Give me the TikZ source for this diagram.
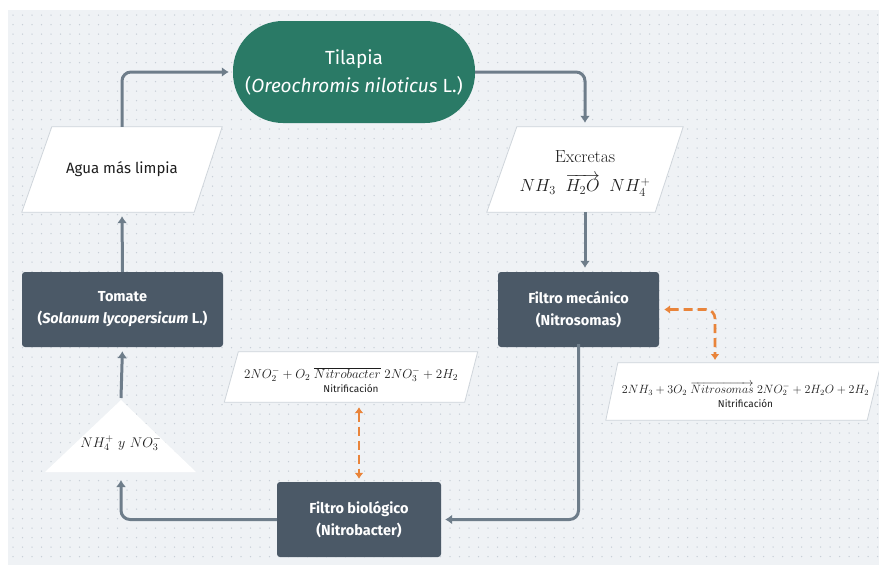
\RequirePackage{fix-cm}
\documentclass[tikz,border=0pt]{standalone}
\usepackage{fontspec}
\setsansfont{Fira Sans}
\usetikzlibrary{arrows.meta,calc}
\definecolor{bgc}{HTML}{EFF2F5}
\definecolor{dotc}{HTML}{C8CFD7}
\definecolor{teal}{HTML}{2A7A66}
\definecolor{slate}{HTML}{4B5967}
\definecolor{flowc}{HTML}{6E7D8A}
\definecolor{orng}{HTML}{E9843A}
\definecolor{edgec}{HTML}{CFD5DB}
\definecolor{txt}{HTML}{1E1E1E}
\tikzset{
  darkbox/.style={draw=none,fill=slate,rounded corners=3pt,text=white,align=center,
    font=\sffamily\bfseries\fontsize{14.5}{22}\selectfont,inner sep=0pt},
  ghost/.style={draw=none,inner sep=0pt,align=center},
  para/.style={fill=white,draw=edgec,line width=0.8pt},
  flow/.style={draw=flowc,line width=3pt,rounded corners=9pt,
    -{Latex[length=7pt,width=10pt]},shorten >=4pt},
  dflow/.style={draw=orng,line width=2.6pt,rounded corners=9pt,dash pattern=on 9pt off 5pt,
    {Latex[length=6pt,width=9pt]}-{Latex[length=6pt,width=9pt]},shorten >=3pt,shorten <=5pt},
}
\begin{document}
\begin{tikzpicture}[x=1pt,y=-1pt]
\useasboundingbox (0,0) rectangle (879,565);
\fill[white] (0,0) rectangle (879,565);
\fill[bgc] (8,10) rectangle (879,565);
\foreach \x in {13,22.5,...,879}{
  \foreach \y in {15,24.5,...,565}{
    \fill[dotc] (\x,\y) circle (0.75);
  }
}
% Tilapia
\node[fill=teal,rounded corners=50pt,minimum width=242pt,minimum height=102pt,inner sep=0pt,
  text=white,align=center,font=\sffamily\fontsize{19}{28}\selectfont] (tilapia) at (354,72)
  {Tilapia\\(\textit{Oreochromis niloticus} L.)};
% Agua mas limpia
\node[ghost,minimum width=200pt,minimum height=85pt] (agua) at (122,169.5) {};
\draw[para] ($(agua.north west)+(30,0)$) -- (agua.north east) -- ($(agua.south east)+(-28,0)$) -- (agua.south west) -- cycle;
\node[font=\sffamily\fontsize{15}{18}\selectfont,text=txt] at (agua.center) {Agua más limpia};
% Excretas
\node[ghost,minimum width=196pt,minimum height=85pt] (excretas) at (585,169.5) {};
\draw[para] ($(excretas.north west)+(30,0)$) -- (excretas.north east) -- ($(excretas.south east)+(-28,0)$) -- (excretas.south west) -- cycle;
\node[align=center,text=txt,font=\fontsize{17.5}{29}\selectfont] at ($(excretas.center)+(0,4)$)
  {Excretas\\$NH_3\;\;\overrightarrow{H_2O}\;\;NH_4^+$};
% Tomate
\node[darkbox,minimum width=201pt,minimum height=75pt] (tomate) at (122.5,309.5)
  {Tomate\\(\textit{Solanum lycopersicum} L.)};
% Filtro mecanico
\node[darkbox,minimum width=161pt,minimum height=75pt] (mecanico) at (578.5,309.5)
  {Filtro mecánico\\(Nitrosomas)};
% Filtro biologico
\node[darkbox,minimum width=164pt,minimum height=75pt] (biologico) at (359,519.5)
  {Filtro biológico\\(Nitrobacter)};
% Triangle
\coordinate (triapex) at (121,398);
\coordinate (tribase) at (121,476);
\fill[white] (121,400) -- (196,472) -- (45,472) -- cycle;
\node[ghost,font=\fontsize{14}{16}\selectfont,text=txt] (tri) at (121,443) {$NH_4^+\ y\ NO_3^-$};
% Equation Nitrobacter
\node[ghost,minimum width=253pt,minimum height=50pt] (eqB) at (351,377) {};
\draw[para] ($(eqB.north west)+(14,0)$) -- (eqB.north east) -- ($(eqB.south east)+(-13,0)$) -- (eqB.south west) -- cycle;
\node[align=center,text=txt,inner sep=0pt] at ($(eqB.center)+(0,3)$)
  {{\fontsize{13}{16}\selectfont $2NO_2^- + O_2\;\overline{Nitrobacter}\;2NO_3^- + 2H_2$}\\[2pt]
   {\sffamily\fontsize{10}{12}\selectfont Nitrificación}};
% Equation Nitrosomas
\node[ghost,minimum width=275pt,minimum height=57pt] (eqS) at (743.5,391.5) {};
\draw[para] ($(eqS.north west)+(12,0)$) -- (eqS.north east) -- ($(eqS.south east)+(-14,0)$) -- (eqS.south west) -- cycle;
\node[align=center,text=txt,inner sep=0pt] at ($(eqS.center)+(2,3)$)
  {{\fontsize{12}{16}\selectfont $2NH_3 + 3O_2\;\overrightarrow{Nitrosomas}\;2NO_2^- + 2H_2O + 2H_2$}\\[2pt]
   {\sffamily\fontsize{10}{12}\selectfont Nitrificación}};
\coordinate (sTop) at (715,363);
% Flow arrows
\draw[flow] (agua.north) |- (tilapia.west);
\draw[flow] (tilapia.east) -| (excretas.north);
\draw[flow] (excretas.south) -- (excretas.south |- mecanico.north);
\draw[flow] ([yshift=3pt]mecanico.south) |- (biologico.east);
\draw[flow] (biologico.west) -| (tribase);
\draw[flow] (triapex) -- (tomate.south);
\draw[flow] (tomate.north) -- (agua.south);
% Orange dashed
\draw[dflow] (mecanico.east) -| (sTop);
\draw[dflow] (biologico.north |- eqB.south) -- (biologico.north);
\end{tikzpicture}
\end{document}
